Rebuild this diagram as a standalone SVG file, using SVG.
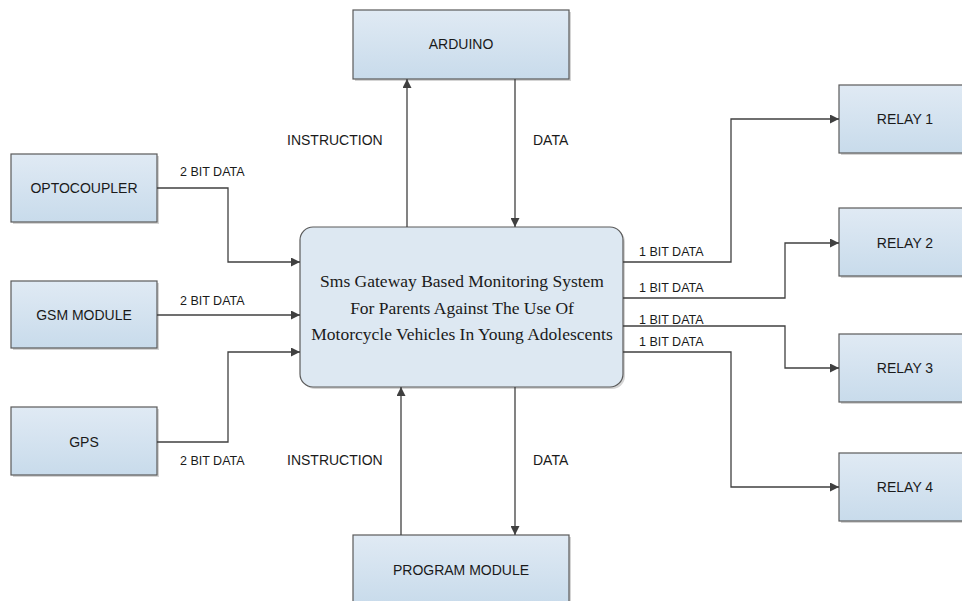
<svg xmlns="http://www.w3.org/2000/svg" width="962" height="601" viewBox="0 0 962 601">
<defs>
<linearGradient id="g" x1="0" y1="0" x2="0" y2="1">
<stop offset="0" stop-color="#e0eaf4"/>
<stop offset="1" stop-color="#c8dbeb"/>
</linearGradient>
<marker id="ah" viewBox="0 0 10 10" refX="10" refY="5" markerWidth="9" markerHeight="9" markerUnits="userSpaceOnUse" orient="auto">
<path d="M0,0 L10,5 L0,10 z" fill="#404040"/>
</marker>
</defs>
<style>
.box{fill:url(#g);stroke:#5a5a5a;stroke-width:1.2}
.sh{fill:#d4d4d4}
.lbl{font-family:"Liberation Sans",Arial,sans-serif;font-size:14px;fill:#1a1a1a;text-anchor:middle}
.sm{font-family:"Liberation Sans",Arial,sans-serif;font-size:12.5px;fill:#1a1a1a}
.md{font-family:"Liberation Sans",Arial,sans-serif;font-size:14px;fill:#1a1a1a}
.main{font-family:"Liberation Serif","Times New Roman",serif;font-size:17.5px;fill:#1a1a1a;text-anchor:middle}
.c{fill:none;stroke:#404040;stroke-width:1.3;marker-end:url(#ah)}
</style>
<rect width="962" height="601" fill="#ffffff"/>

<g id="main">
<rect x="302" y="229" width="323" height="160" rx="13" class="sh"/>
<rect x="300" y="227" width="323" height="160" rx="13" fill="#dde8f2" stroke="#5a5a5a" stroke-width="1.2"/>
<text class="main" x="462" y="287">Sms Gateway Based Monitoring System</text>
<text class="main" x="462" y="313.5">For Parents Against The Use Of</text>
<text class="main" x="462" y="340">Motorcycle Vehicles In Young Adolescents</text>
</g>

<g id="arduino">
<rect x="355" y="12" width="216" height="69" class="sh"/>
<rect x="353" y="10" width="216" height="69" class="box"/>
<text class="lbl" x="461" y="49">ARDUINO</text>
</g>

<g id="program">
<rect x="355" y="537" width="216" height="69" class="sh"/>
<rect x="353" y="535" width="216" height="69" class="box"/>
<text class="lbl" x="461" y="575">PROGRAM MODULE</text>
</g>

<g id="optocoupler">
<rect x="13" y="156" width="146" height="68" class="sh"/>
<rect x="11" y="154" width="146" height="68" class="box"/>
<text class="lbl" x="84" y="193">OPTOCOUPLER</text>
</g>

<g id="gsm">
<rect x="13" y="283" width="146" height="67" class="sh"/>
<rect x="11" y="281" width="146" height="67" class="box"/>
<text class="lbl" x="84" y="320">GSM MODULE</text>
</g>

<g id="gps">
<rect x="13" y="409" width="146" height="68" class="sh"/>
<rect x="11" y="407" width="146" height="68" class="box"/>
<text class="lbl" x="84" y="447">GPS</text>
</g>

<g id="relay1">
<rect x="841" y="87" width="146" height="68" class="sh"/>
<rect x="839" y="85" width="146" height="68" class="box"/>
<text class="lbl" x="905" y="124">RELAY 1</text>
</g>

<g id="relay2">
<rect x="841" y="210" width="146" height="68" class="sh"/>
<rect x="839" y="208" width="146" height="68" class="box"/>
<text class="lbl" x="905" y="248">RELAY 2</text>
</g>

<g id="relay3">
<rect x="841" y="336" width="146" height="68" class="sh"/>
<rect x="839" y="334" width="146" height="68" class="box"/>
<text class="lbl" x="905" y="373">RELAY 3</text>
</g>

<g id="relay4">
<rect x="841" y="455" width="146" height="68" class="sh"/>
<rect x="839" y="453" width="146" height="68" class="box"/>
<text class="lbl" x="905" y="492">RELAY 4</text>
</g>

<g id="connectors">
<path class="c" d="M157,188 H228 V262 H300"/>
<path class="c" d="M157,315 H300"/>
<path class="c" d="M157,442 H228 V352 H300"/>
<path class="c" d="M407,227 V79"/>
<path class="c" d="M515,79 V227"/>
<path class="c" d="M401,535 V387"/>
<path class="c" d="M515,387 V535"/>
<path class="c" d="M623,262 H731 V119 H839"/>
<path class="c" d="M623,298 H785 V243 H839"/>
<path class="c" d="M623,326 H785 V368 H839"/>
<path class="c" d="M623,352 H731 V487 H839"/>
</g>

<g id="labels">
<text class="sm" x="180" y="176">2 BIT DATA</text>
<text class="sm" x="180" y="305">2 BIT DATA</text>
<text class="sm" x="180" y="465">2 BIT DATA</text>
<text class="md" x="287" y="145">INSTRUCTION</text>
<text class="md" x="533" y="145">DATA</text>
<text class="md" x="287" y="465">INSTRUCTION</text>
<text class="md" x="533" y="465">DATA</text>
<text class="sm" x="639" y="256">1 BIT DATA</text>
<text class="sm" x="639" y="292">1 BIT DATA</text>
<text class="sm" x="639" y="324">1 BIT DATA</text>
<text class="sm" x="639" y="346">1 BIT DATA</text>
</g>
</svg>
